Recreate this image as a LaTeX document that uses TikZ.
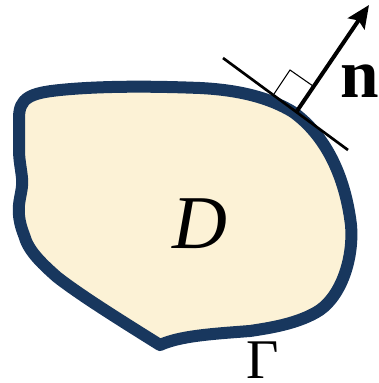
\documentclass[tikz,border=0pt]{standalone}
\usepackage{fontspec}
\setmainfont{Liberation Serif}
\usetikzlibrary{arrows.meta}

\definecolor{regionfill}{RGB}{252,242,214}
\definecolor{boundary}{RGB}{24,55,94}

\tikzset{every picture/.style={line width=0.75pt}}

\begin{document}
\begin{tikzpicture}[x=0.75pt,y=0.75pt,yscale=-1,xscale=1]
	\useasboundingbox (0,0) rectangle (379,383);
	
	%Region D with boundary Gamma
	\draw [color=boundary, fill=regionfill, line width=9pt, line join=round]
		(19,150) -- (19,118)
		.. controls (19,98) and (30,93) .. (60,90)
		.. controls (100,86) and (150,86) .. (200,88)
		.. controls (240,90) and (270,98) .. (293,112)
		.. controls (325,135) and (345,175) .. (351,225)
		.. controls (354,260) and (340,300) .. (315,313)
		.. controls (295,324) and (270,328) .. (250,331)
		.. controls (210,334) and (180,336) .. (160,345)
		.. controls (120,320) and (80,295) .. (57,277)
		.. controls (40,262) and (28,250) .. (24,235)
		.. controls (20,225) and (18,215) .. (19,205)
		.. controls (20,195) and (23,188) .. (22,178)
		.. controls (21,168) and (19,160) .. (19,150) -- cycle;
	
	%Points for tangent and normal
	\coordinate (foot) at (297,111);
	\coordinate (tanA) at (223,58);
	\coordinate (tanB) at (348,150);
	\coordinate (tip) at (369,5);
	\coordinate (sqA) at (274,94);
	\coordinate (sqB) at (290,70);
	\coordinate (sqC) at (313,86);
	
	%Tangent line
	\draw [line width=2pt] (tanA) -- (tanB) ;
	%Right angle mark
	\draw [line width=0.8pt] (sqA) -- (sqB) -- (sqC) ;
	%Normal vector
	\draw [line width=3pt, -{Stealth[length=17pt,width=15pt,inset=3pt]}] (foot) -- (tip) ;
	
	% Text Node
	\node (lblD) at (200,224) [inner sep=0pt] {\fontsize{57}{57}\selectfont\textit{D}};
	% Text Node
	\node (lblN) at (360,81) [inner sep=0pt] {\fontsize{52}{52}\selectfont\textbf{n}};
	% Text Node
	\node (lblG) at (262.5,378) [inner sep=0pt, anchor=base] {\fontsize{42}{42}\selectfont Γ};
	
\end{tikzpicture}
\end{document}
